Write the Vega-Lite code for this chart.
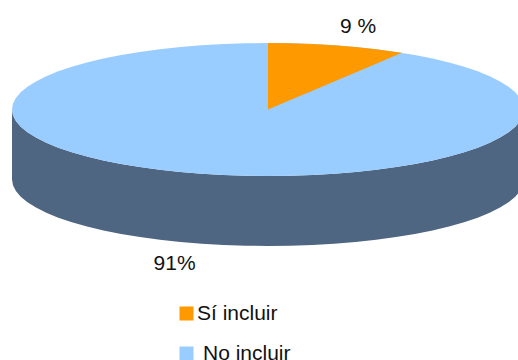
{
  "$schema": "https://vega.github.io/schema/vega-lite/v6.json",
  "width": 518,
  "height": 360,
  "padding": 0,
  "autosize": {"type": "fit", "contains": "padding"},
  "background": "white",
  "config": {"view": {"stroke": null}},
  "datasets": {
    "disc": [
      {"part":"No incluir","x":-1,"rim":0,"low":0,"floor":-1.0526},
      {"part":"No incluir","x":-0.9962,"rim":0.0872,"low":-0.0872,"floor":-1.1398},
      {"part":"No incluir","x":-0.9848,"rim":0.1736,"low":-0.1736,"floor":-1.2262},
      {"part":"No incluir","x":-0.9659,"rim":0.2588,"low":-0.2588,"floor":-1.3114},
      {"part":"No incluir","x":-0.9397,"rim":0.342,"low":-0.342,"floor":-1.3946},
      {"part":"No incluir","x":-0.9063,"rim":0.4226,"low":-0.4226,"floor":-1.4752},
      {"part":"No incluir","x":-0.866,"rim":0.5,"low":-0.5,"floor":-1.5526},
      {"part":"No incluir","x":-0.8192,"rim":0.5736,"low":-0.5736,"floor":-1.6262},
      {"part":"No incluir","x":-0.766,"rim":0.6428,"low":-0.6428,"floor":-1.6954},
      {"part":"No incluir","x":-0.7071,"rim":0.7071,"low":-0.7071,"floor":-1.7597},
      {"part":"No incluir","x":-0.6428,"rim":0.766,"low":-0.766,"floor":-1.8186},
      {"part":"No incluir","x":-0.5736,"rim":0.8192,"low":-0.8192,"floor":-1.8718},
      {"part":"No incluir","x":-0.5,"rim":0.866,"low":-0.866,"floor":-1.9186},
      {"part":"No incluir","x":-0.4226,"rim":0.9063,"low":-0.9063,"floor":-1.9589},
      {"part":"No incluir","x":-0.342,"rim":0.9397,"low":-0.9397,"floor":-1.9923},
      {"part":"No incluir","x":-0.2588,"rim":0.9659,"low":-0.9659,"floor":-2.0185},
      {"part":"No incluir","x":-0.1736,"rim":0.9848,"low":-0.9848,"floor":-2.0374},
      {"part":"No incluir","x":-0.0872,"rim":0.9962,"low":-0.9962,"floor":-2.0488},
      {"part":"No incluir","x":0,"rim":1,"low":-1,"floor":-2.0526},
      {"part":"No incluir","x":0.0872,"rim":0.9962,"low":-0.9962,"floor":-2.0488},
      {"part":"No incluir","x":0.1736,"rim":0.9848,"low":-0.9848,"floor":-2.0374},
      {"part":"No incluir","x":0.2588,"rim":0.9659,"low":-0.9659,"floor":-2.0185},
      {"part":"No incluir","x":0.342,"rim":0.9397,"low":-0.9397,"floor":-1.9923},
      {"part":"No incluir","x":0.4226,"rim":0.9063,"low":-0.9063,"floor":-1.9589},
      {"part":"No incluir","x":0.5,"rim":0.866,"low":-0.866,"floor":-1.9186},
      {"part":"No incluir","x":0.5736,"rim":0.8192,"low":-0.8192,"floor":-1.8718},
      {"part":"No incluir","x":0.6428,"rim":0.766,"low":-0.766,"floor":-1.8186},
      {"part":"No incluir","x":0.7071,"rim":0.7071,"low":-0.7071,"floor":-1.7597},
      {"part":"No incluir","x":0.766,"rim":0.6428,"low":-0.6428,"floor":-1.6954},
      {"part":"No incluir","x":0.8192,"rim":0.5736,"low":-0.5736,"floor":-1.6262},
      {"part":"No incluir","x":0.866,"rim":0.5,"low":-0.5,"floor":-1.5526},
      {"part":"No incluir","x":0.9063,"rim":0.4226,"low":-0.4226,"floor":-1.4752},
      {"part":"No incluir","x":0.9397,"rim":0.342,"low":-0.342,"floor":-1.3946},
      {"part":"No incluir","x":0.9659,"rim":0.2588,"low":-0.2588,"floor":-1.3114},
      {"part":"No incluir","x":0.9848,"rim":0.1736,"low":-0.1736,"floor":-1.2262},
      {"part":"No incluir","x":0.9962,"rim":0.0872,"low":-0.0872,"floor":-1.1398},
      {"part":"No incluir","x":1,"rim":0,"low":0,"floor":-1.0526}
    ],
    "slice": [
      {"part":"Sí incluir","x":0,"rim":1,"edge":0},
      {"part":"Sí incluir","x":0.0872,"rim":0.9962,"edge":0.142},
      {"part":"Sí incluir","x":0.1736,"rim":0.9848,"edge":0.283},
      {"part":"Sí incluir","x":0.2588,"rim":0.9659,"edge":0.421},
      {"part":"Sí incluir","x":0.342,"rim":0.9397,"edge":0.557},
      {"part":"Sí incluir","x":0.4226,"rim":0.9063,"edge":0.688},
      {"part":"Sí incluir","x":0.5,"rim":0.866,"edge":0.814},
      {"part":"Sí incluir","x":0.5234,"rim":0.852,"edge":0.852}
    ],
    "shares": [
      {"label":"9 %","x":0.352,"y":1.241},
      {"label":"91%","x":-0.365,"y":-2.323}
    ]
  },
  "layer": [
    {
      "data": {"name": "disc"},
      "mark": {"type": "area", "color": "#4F6682", "clip": true},
      "encoding": {
        "x": {"field": "x", "type": "quantitative", "scale": {"domain": [-1.0469, 0.9766], "nice": false, "zero": false}, "axis": null},
        "y": {"field": "low", "type": "quantitative", "stack": null, "scale": {"domain": [-3.7669, 1.6466], "nice": false, "zero": false}, "axis": null},
        "y2": {"field": "floor"}
      }
    },
    {
      "data": {"name": "disc"},
      "mark": {"type": "area", "clip": true},
      "encoding": {
        "x": {"field": "x", "type": "quantitative", "axis": null},
        "y": {"field": "rim", "type": "quantitative", "stack": null, "axis": null},
        "y2": {"field": "low"},
        "color": {
          "field": "part",
          "type": "nominal",
          "scale": {"domain": ["Sí incluir", "No incluir"], "range": ["#FF9900", "#99CCFF"]},
          "legend": {
            "title": null,
            "orient": "none",
            "legendX": 176,
            "legendY": 303,
            "symbolType": "square",
            "symbolSize": 196,
            "symbolStrokeWidth": 0,
            "symbolOpacity": 1,
            "labelFont": "Liberation Sans",
            "labelFontSize": 21,
            "labelColor": "#111111",
            "labelOffset": 0,
            "rowPadding": 18,
            "encode": {"labels": {"update": {"dx": {"signal": "datum.label === 'No incluir' ? 6 : 0"}}}}
          }
        }
      }
    },
    {
      "data": {"name": "slice"},
      "mark": {"type": "area", "clip": true},
      "encoding": {
        "x": {"field": "x", "type": "quantitative", "axis": null},
        "y": {"field": "rim", "type": "quantitative", "stack": null, "axis": null},
        "y2": {"field": "edge"},
        "color": {"field": "part", "type": "nominal"}
      }
    },
    {
      "data": {"name": "shares"},
      "mark": {"type": "text", "font": "Liberation Sans", "fontSize": 21, "color": "#111111", "align": "center", "baseline": "middle"},
      "encoding": {
        "x": {"field": "x", "type": "quantitative", "axis": null},
        "y": {"field": "y", "type": "quantitative", "axis": null},
        "text": {"field": "label", "type": "nominal"}
      }
    }
  ]
}
